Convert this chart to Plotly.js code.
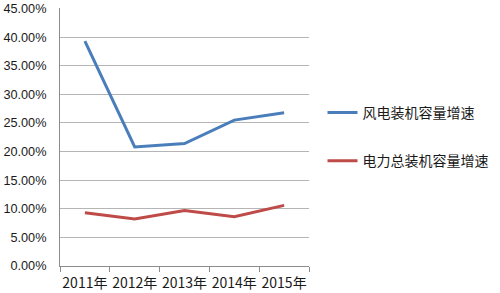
<!DOCTYPE html>
<html><head><meta charset="utf-8">
<script src="https://cdn.plot.ly/plotly-3.0.1.min.js"></script>
<style>html,body{margin:0;padding:0;background:#fff}#c{width:500px;height:293px}</style>
</head><body><div id="c"></div>
<script>
const years = ['2011年','2012年','2013年','2014年','2015年'];
const windGrowth = [0.393, 0.208, 0.214, 0.255, 0.268];
const totalGrowth = [0.093, 0.082, 0.097, 0.086, 0.106];
const seriesNames = ['风电装机容量增速','电力总装机容量增速'];
const font = "'Noto Sans CJK SC', 'Liberation Sans', sans-serif";
const data = [
  {x: years, y: windGrowth, name: seriesNames[0], type: 'scatter', mode: 'lines',
   line: {color: '#4a7ebb', width: 3}, legendgroup: 'a'},
  {x: years, y: totalGrowth, name: seriesNames[1], type: 'scatter', mode: 'lines',
   line: {color: '#be4b48', width: 3}, legendgroup: 'b'}
];
const layout = {
  width: 500, height: 293,
  margin: {l: 60, r: 190, t: 8, b: 27},
  paper_bgcolor: '#fff', plot_bgcolor: '#fff',
  font: {family: font, size: 13.5, color: '#1a1a1a'},
  showlegend: true,
  legend: {x: 1.05, y: 0.50, xanchor: 'left', yanchor: 'middle', traceorder: 'grouped',
           tracegroupgap: 27, font: {size: 14, color: '#1a1a1a'}, itemwidth: 30, bgcolor: 'rgba(0,0,0,0)'},
  xaxis: {type: 'category', range: [-0.5, 4.5], showgrid: false, showline: true, linecolor: '#8c8c8c',
          linewidth: 1, ticks: 'outside', tickson: 'boundaries', ticklen: 5, tickcolor: '#8c8c8c',
          tickangle: 0, tickfont: {size: 14}, ticklabelstandoff: 4, fixedrange: true, automargin: false},
  yaxis: {range: [0, 0.451], tick0: 0, dtick: 0.05, tickformat: '.2%', showgrid: true, gridcolor: '#b5b5b5',
          gridwidth: 1, showline: true, linecolor: '#8c8c8c', zeroline: false, ticks: '',
          ticklabeloverflow: 'allow', ticklabelstandoff: 10,
          tickfont: {size: 12.7, family: "'Liberation Sans', sans-serif"}, ticklen: 0, fixedrange: true, automargin: false}
};
Plotly.newPlot('c', data, layout, {displayModeBar: false, staticPlot: true});
</script></body></html>
